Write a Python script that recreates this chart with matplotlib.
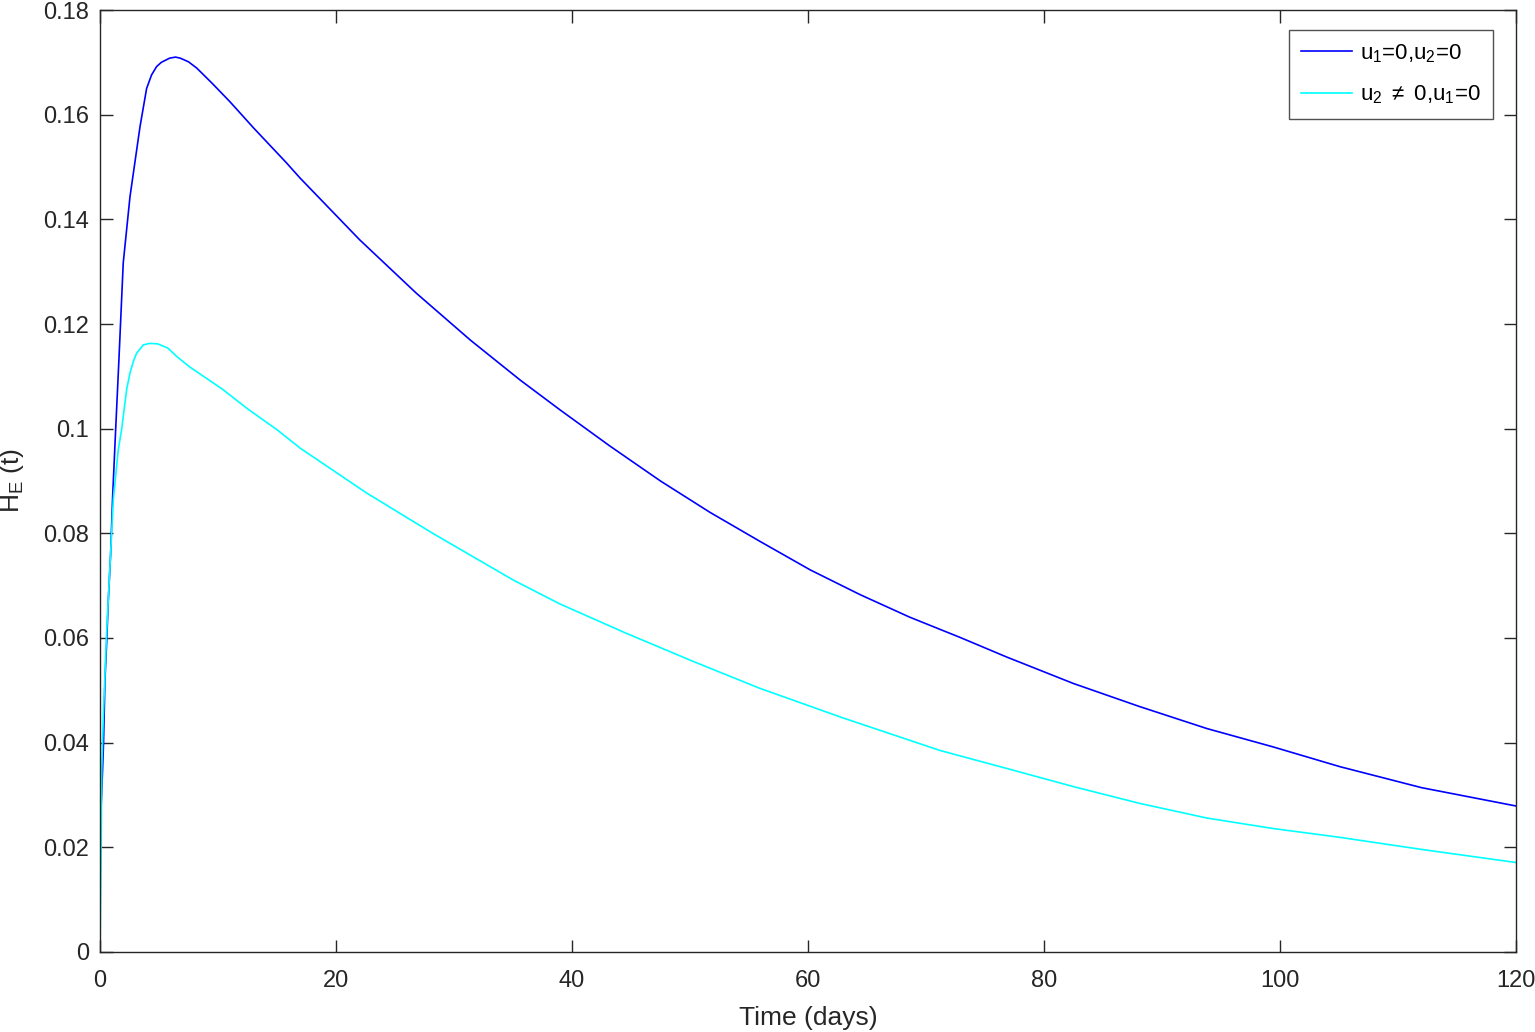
import matplotlib
matplotlib.use("Agg")
import matplotlib.pyplot as plt

plt.rcParams['font.family'] = ['Liberation Sans', 'DejaVu Sans']
plt.rcParams['mathtext.fontset'] = 'custom'
plt.rcParams['mathtext.rm'] = 'Liberation Sans'
plt.rcParams['mathtext.it'] = 'Liberation Sans'

# Blue: u1=0, u2=0
t_blue = [0, 0.14, 0.3, 0.42, 0.56, 0.7, 0.9, 1.07, 1.33, 1.6, 1.97, 2.54, 3.39,
          3.95, 4.37, 4.8, 5.2, 5.9, 6.4, 6.8, 7.5, 8.2, 9.5, 11.0, 13.0, 15.8,
          16.95, 22.0, 26.8, 31.4, 35.6, 38.98, 43.2, 47.5, 51.7, 55.9, 60.2,
          64.4, 68.6, 72.9, 76.8, 82.5, 88.1, 93.8, 99.4, 105.1, 112.0, 120]
h_blue = [0.024, 0.030, 0.040, 0.052, 0.059, 0.067, 0.076, 0.087, 0.100, 0.113,
          0.1317, 0.1443, 0.1577, 0.1650, 0.1676, 0.1692, 0.1700, 0.1708, 0.1710,
          0.1708, 0.1701, 0.1689, 0.1660, 0.1625, 0.1575, 0.1508, 0.1479, 0.1361,
          0.1259, 0.1169, 0.1093, 0.1036, 0.0967, 0.0900, 0.0840, 0.0785, 0.0730,
          0.0683, 0.0640, 0.0601, 0.0564, 0.0513, 0.0469, 0.0427, 0.0392, 0.0354,
          0.0314, 0.0279]

# Cyan: u2 != 0, u1 = 0
t_cyan = [0, 0.1, 0.15, 0.28, 0.56, 0.85, 1.13, 1.55, 1.83, 2.26, 2.54, 2.82,
          3.1, 3.67, 4.2, 4.9, 5.75, 6.5, 7.6, 10.4, 12.5, 15.0, 16.95, 22.6,
          28.2, 35.0, 38.98, 44.6, 50.3, 55.9, 63.0, 71.2, 76.8, 82.5, 88.1,
          93.8, 99.4, 105.1, 112.0, 120]
h_cyan = [0.0, 0.02, 0.035, 0.045, 0.061, 0.074, 0.0865, 0.096, 0.0998, 0.1075,
          0.1106, 0.1128, 0.1144, 0.1160, 0.1163, 0.1162, 0.1154, 0.1138, 0.1118,
          0.1075, 0.1038, 0.0998, 0.0963, 0.0877, 0.0800, 0.0711, 0.0665, 0.0609,
          0.0555, 0.0504, 0.0447, 0.0385, 0.0351, 0.0316, 0.0284, 0.0256, 0.0236,
          0.0219, 0.0196, 0.0171]

x_ticks = [0, 20, 40, 60, 80, 100, 120]
y_ticks = [0, 0.02, 0.04, 0.06, 0.08, 0.1, 0.12, 0.14, 0.16, 0.18]
y_tick_labels = ['0', '0.02', '0.04', '0.06', '0.08', '0.1', '0.12', '0.14', '0.16', '0.18']

fig = plt.figure(figsize=(15.35, 10.32), dpi=100)
ax = fig.add_axes([100/1535, 80/1032, 1416/1535, 942/1032])

ax.plot(t_blue, h_blue, color='#0000ff', lw=1.2, label=r'u$_1$=0,u$_2$=0')
ax.plot(t_cyan, h_cyan, color='#00ffff', lw=1.2, label=r'u$_2$ $\neq$ 0,u$_1$=0')

ax.set_xlim(0, 120)
ax.set_ylim(0, 0.18)
ax.set_xticks(x_ticks)
ax.set_xticklabels([str(v) for v in x_ticks])
ax.set_yticks(y_ticks)
ax.set_yticklabels(y_tick_labels)
ax.tick_params(direction='in', length=9, width=1, top=True, right=True,
               labelsize=17, colors='#262626')
ax.tick_params(axis='x', pad=13)
ax.tick_params(axis='y', pad=8)
for s in ax.spines.values():
    s.set_linewidth(1.0)
    s.set_color('#262626')

ax.set_xlabel('Time (days)', fontsize=19, color='#262626', labelpad=10)
ax.set_ylabel(r'H$_E$ (t)', fontsize=19, color='#262626', labelpad=12)

leg = ax.legend(loc='upper right', bbox_to_anchor=(0.9837, 0.9788), fontsize=16,
                frameon=True, fancybox=False, edgecolor='#262626',
                handlelength=2.3, borderpad=0.55, labelspacing=0.85, handletextpad=0.36,
                borderaxespad=0)
leg.get_frame().set_linewidth(1.0)

fig.savefig('out.png', dpi=100, facecolor='white')
